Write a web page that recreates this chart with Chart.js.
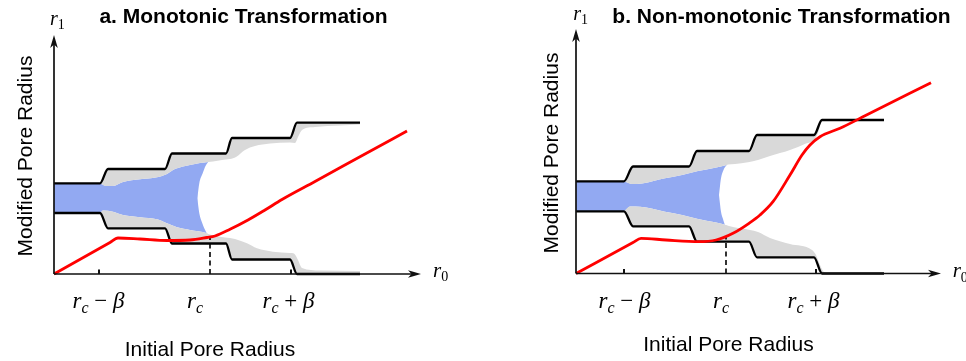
<!DOCTYPE html>
<html>
<head>
<meta charset="utf-8">
<script src="https://cdn.jsdelivr.net/npm/chart.js@4.4.1/dist/chart.umd.min.js"></script>
<style>
  html, body { margin: 0; padding: 0; background: #fff; }
  #wrap { position: relative; width: 966px; height: 361px; overflow: hidden; }
  .panel { position: absolute; top: 0; width: 483px; height: 361px; }
</style>
</head>
<body>
<div id="wrap">
  <div class="panel" style="left:0"><canvas id="chartA" width="483" height="361"></canvas></div>
  <div class="panel" style="left:483px"><canvas id="chartB" width="483" height="361"></canvas></div>
</div>
<script>
// ---- panel a: monotonic transformation (x = r0, y = r1, arbitrary units) ----
const wallTopA = [[0,90.7],[46,90.7],[54,105],[111,105],[118,120.5],[172,120.5],[178,136],[236,136],[243,151.3],[306,151.3]];
const wallBotA = [[0,61],[46,61],[54,45.7],[111,45.7],[118,30.5],[172,30.5],[178,14.5],[236,14.5],[243,0],[306,0]];
const fluidTopA = [[0,90.7],[46,90.5],[52,88],[59,88],[69,92],[86,94.7],[103,96.7],[113,100],[119,104],[129,107.5],[136,109],[146,111],[154.3,112]];
const fluidBotA = [[0,61],[46,61.2],[49,63.5],[59,62.3],[69,59],[86,56.7],[103,54.7],[113,50.7],[123,46.7],[136,44],[153,40.7],[154.3,40]];
const shadeTopA = [[46,90.7],[52,88],[59,88],[69,92],[86,94.7],[103,96.7],[113,100],[119,104],[129,107.5],[136,109],[146,111],[154.3,112],[159,112.5],[168,114],[176,115],[182,117],[191,124],[201,128],[216,130.5],[236,131.5],[241,131],[244,137],[248,144],[261,147],[286,148.5],[306,149.5]];
const shadeBotA = [[46,61],[49,63.5],[59,62.3],[69,59],[86,56.7],[103,54.7],[113,50.7],[123,46.7],[136,44],[153,40.7],[154.3,40],[156,39.5],[161,38],[171,36.5],[181,35],[193,30.7],[203,25.7],[219,22.3],[236,21],[240,20.5],[244,14],[248,6],[266,3.5],[306,3]];
const meniscusTopA = [[143.3,75.7],[145.3,90.7],[148.7,100.7],[151.5,108],[154.3,112],[157,114.5]];
const meniscusBotA = [[143.3,75.7],[145.3,60.7],[148.3,50.7],[152.7,40.7],[155,37],[157,34.5]];
const curveA = [[0,0],[56,31.5],[64,36],[86,35],[113,33.5],[136,34],[153,36.5],[161,38],[176,44.7],[194,54],[211,64],[228,74.5],[261,92.5],[311,120],[353,143]];
const critA = [[156,0],[156,37.3]];
const tickMarksA = [45, 237];
const tickLabelAtA = [44.5, 141, 234.5];

// ---- panel b: non-monotonic transformation ----
const wallTopB = [[0,92.2],[48,92.2],[57,107],[113,107],[121,122.5],[173,122.5],[181,138.5],[238,138.5],[246,153.5],[308,153.5]];
const wallBotB = [[0,62.2],[48,62.2],[57,47.2],[113,47.2],[121,31.8],[173,31.8],[181,16.2],[238,16.2],[246,0],[308,0]];
const fluidTopB = [[0,92.2],[48,92],[56,89.5],[66,90],[89,95.2],[106,98.5],[122,102.5],[139,105.8],[150.7,108.5],[152,109]];
const fluidBotB = [[0,62.2],[48,62.2],[54,67],[64,66.8],[89,61.8],[106,58.5],[122,54.5],[139,51.2],[150,48.5],[152,47.8]];
const shadeTopB = [[48,92.2],[56,89.5],[66,90],[89,95.2],[106,98.5],[122,102.5],[139,105.8],[150.7,108.5],[152,109],[159,109.5],[172,111.2],[182,113.5],[194,117.5],[214,123.5],[230,130],[238,133.5],[242,140.5],[246,152.5],[250,153.5]];
const shadeBotB = [[48,62.2],[54,67],[64,66.8],[89,61.8],[106,58.5],[122,54.5],[139,51.2],[150,48.5],[152,47.8],[164,45.2],[174,43.5],[182,41.5],[194,35.5],[214,29.5],[236,23.5],[240,18.5],[244,8.5],[248,1.5],[252,0.5]];
const meniscusTopB = [[143,78.5],[144,87.5],[145,95.2],[147.5,103.5],[150.7,108.5],[153.5,111.5]];
const meniscusBotB = [[143,78.5],[144,69.5],[145,61.8],[147,54.5],[149,48.5],[151,46],[153.5,44]];
const curveB = [[0,0],[57,30.9],[65,35.2],[90,33.5],[123,31.8],[140,33.5],[157,40.2],[173,50.2],[184,58.5],[197,71.8],[214,98.5],[226,118.5],[234,128.5],[244,136.8],[264,145.2],[290,158.2],[355,190.8]];
const critB = [[150,0],[150,37.4]];
const tickMarksB = [48, 240];
const tickLabelAtB = [48.5, 145, 237.5];

const tickLabels = ['r_c − β', 'r_c', 'r_c + β'];

const BLUE = 'rgb(146,169,242)';
const GREY = 'rgb(217,217,217)';

const pts = arr => arr.map(([x, y]) => ({x, y}));

// split "r_c − β" into runs: letters italic, one char after "_" as subscript
function mathRuns(str) {
    const runs = [];
    for (let i = 0; i < str.length; i++) {
        const ch = str[i];
        if (ch === '_') {
            i++;
            runs.push({t: str[i], sub: true, it: !/\d/.test(str[i])});
            continue;
        }
        runs.push({t: ch, sub: false, it: /[A-Za-z\u03b1-\u03c9]/.test(ch)});
    }
    return runs;
}

function drawMath(ctx, str, x, y, size, align) {
    const runs = mathRuns(str);
    const fontOf = r => (r.it ? 'italic ' : '') + (r.sub ? Math.round(size * 0.68) : size) + 'px "Liberation Serif", "DejaVu Serif", serif';
    let w = 0;
    runs.forEach(r => { ctx.font = fontOf(r); r.w = ctx.measureText(r.t).width; w += r.w; });
    let cx = align === 'center' ? x - w / 2 : x;
    ctx.textAlign = 'left';
    ctx.textBaseline = 'alphabetic';
    runs.forEach(r => {
        ctx.font = fontOf(r);
        ctx.fillText(r.t, cx, y + (r.sub ? size * 0.22 : 0));
        cx += r.w;
    });
}

// axes with arrows, tick marks and all the labels
const decor = {
    id: 'decor',
    afterDraw(chart, args, o) {
        const ctx = chart.ctx;
        const xs = chart.scales.x, ys = chart.scales.y;
        const ox = xs.getPixelForValue(0), oy = ys.getPixelForValue(0);
        const tx = xs.getPixelForValue(xs.max), ty = ys.getPixelForValue(ys.max);

        ctx.save();
        ctx.strokeStyle = '#111';
        ctx.fillStyle = '#111';
        ctx.lineWidth = 1.7;
        ctx.beginPath();
        ctx.moveTo(ox, oy); ctx.lineTo(tx - 8, oy);
        ctx.moveTo(ox, oy); ctx.lineTo(ox, ty + 8);
        ctx.stroke();

        ctx.beginPath();
        ctx.moveTo(tx, oy); ctx.lineTo(tx - 13, oy - 3.8); ctx.lineTo(tx - 9.5, oy); ctx.lineTo(tx - 13, oy + 3.8); ctx.closePath();
        ctx.moveTo(ox, ty); ctx.lineTo(ox - 3.8, ty + 13); ctx.lineTo(ox, ty + 9.5); ctx.lineTo(ox + 3.8, ty + 13); ctx.closePath();
        ctx.fill();

        ctx.lineWidth = 2;
        ctx.beginPath();
        o.ticks.forEach(v => {
            const x = xs.getPixelForValue(v);
            ctx.moveTo(x, oy); ctx.lineTo(x, oy - 4.5);
        });
        ctx.stroke();

        ctx.fillStyle = '#000';
        tickLabels.forEach((s, i) => drawMath(ctx, s, xs.getPixelForValue(o.tickLabelAt[i]), o.tickBaseline, 23, 'center'));
        drawMath(ctx, 'r_1', o.r1.x, o.r1.y, 20, 'left');
        drawMath(ctx, 'r_0', o.r0.x, o.r0.y, 21, 'left');

        ctx.textAlign = 'center';
        ctx.textBaseline = 'alphabetic';
        ctx.font = 'bold 21px "Liberation Sans", Arial, sans-serif';
        ctx.fillText(o.title.text, o.title.x, o.title.y);
        ctx.font = '21px "Liberation Sans", Arial, sans-serif';
        ctx.fillText('Initial Pore Radius', o.xTitle.x, o.xTitle.y);
        ctx.translate(o.yTitle.x, o.yTitle.y);
        ctx.rotate(-Math.PI / 2);
        ctx.fillText('Modified Pore Radius', 0, 0);
        ctx.restore();
    }
};

function makePanel(id, d) {
    const smooth = {cubicInterpolationMode: 'monotone', pointRadius: 0, clip: false};
    const band = {borderWidth: 0, borderColor: 'transparent', cubicInterpolationMode: 'monotone', pointRadius: 0};
    // dataset index 0 is drawn on top; "order" keeps the layering explicit
    const datasets = [
        {data: pts(d.curve), borderColor: '#ff0000', borderWidth: 2.8, order: 1, ...smooth},       // 0
        {data: pts(d.wallTop), borderColor: '#000', borderWidth: 2.3, order: 2, ...smooth},        // 1
        {data: pts(d.wallBot), borderColor: '#000', borderWidth: 2.3, order: 2, ...smooth},        // 2
        {data: pts(d.crit), borderColor: '#000', borderWidth: 1.6, borderDash: [5, 3.5], pointRadius: 0, order: 3, clip: false}, // 3
        {data: pts(d.shadeTop), backgroundColor: GREY, fill: 1, order: 4, ...band},                // 4
        {data: pts(d.shadeBot), backgroundColor: GREY, fill: 2, order: 4, ...band},                // 5
        {data: pts(d.menTop), backgroundColor: '#fff', fill: 7, order: 5, ...band},                // 6
        {data: pts(d.menBot), order: 5, ...band},                                                  // 7
        {data: pts(d.fluidTop), backgroundColor: BLUE, fill: 9, order: 6, ...band},                // 8
        {data: pts(d.fluidBot), order: 6, ...band}                                                 // 9
    ];

    return new Chart(document.getElementById(id), {
        type: 'line',
        data: {datasets},
        plugins: [decor],
        options: {
            responsive: false,
            devicePixelRatio: 1,
            animation: false,
            events: [],
            layout: {padding: d.padding},
            scales: {
                x: {type: 'linear', display: false, min: 0, max: d.xMax},
                y: {type: 'linear', display: false, min: 0, max: d.yMax}
            },
            plugins: {
                legend: {display: false},
                tooltip: {enabled: false},
                decor: d.decor
            }
        }
    });
}

makePanel('chartA', {
    wallTop: wallTopA, wallBot: wallBotA, fluidTop: fluidTopA, fluidBot: fluidBotA,
    shadeTop: shadeTopA, shadeBot: shadeBotA, menTop: meniscusTopA, menBot: meniscusBotA,
    curve: curveA, crit: critA,
    xMax: 367, yMax: 239,
    padding: {left: 54, right: 62, top: 35, bottom: 87},
    decor: {
        ticks: tickMarksA, tickLabelAt: tickLabelAtA, tickBaseline: 308,
        r1: {x: 50, y: 25}, r0: {x: 433, y: 276.7},
        title: {text: 'a. Monotonic Transformation', x: 243.5, y: 23.3},
        xTitle: {x: 210, y: 355.7},
        yTitle: {x: 31.5, y: 156}
    }
});

makePanel('chartB', {
    wallTop: wallTopB, wallBot: wallBotB, fluidTop: fluidTopB, fluidBot: fluidBotB,
    shadeTop: shadeTopB, shadeBot: shadeBotB, menTop: meniscusTopB, menBot: meniscusBotB,
    curve: curveB, crit: critB,
    xMax: 365, yMax: 244.5,
    padding: {left: 93, right: 25, top: 29, bottom: 87.5},
    decor: {
        ticks: tickMarksB, tickLabelAt: tickLabelAtB, tickBaseline: 308,
        r1: {x: 90.3, y: 20}, r0: {x: 469.7, y: 277},
        title: {text: 'b. Non-monotonic Transformation', x: 298.5, y: 23.3},
        xTitle: {x: 245.5, y: 351},
        yTitle: {x: 74.5, y: 153}
    }
});
</script>
</body>
</html>
